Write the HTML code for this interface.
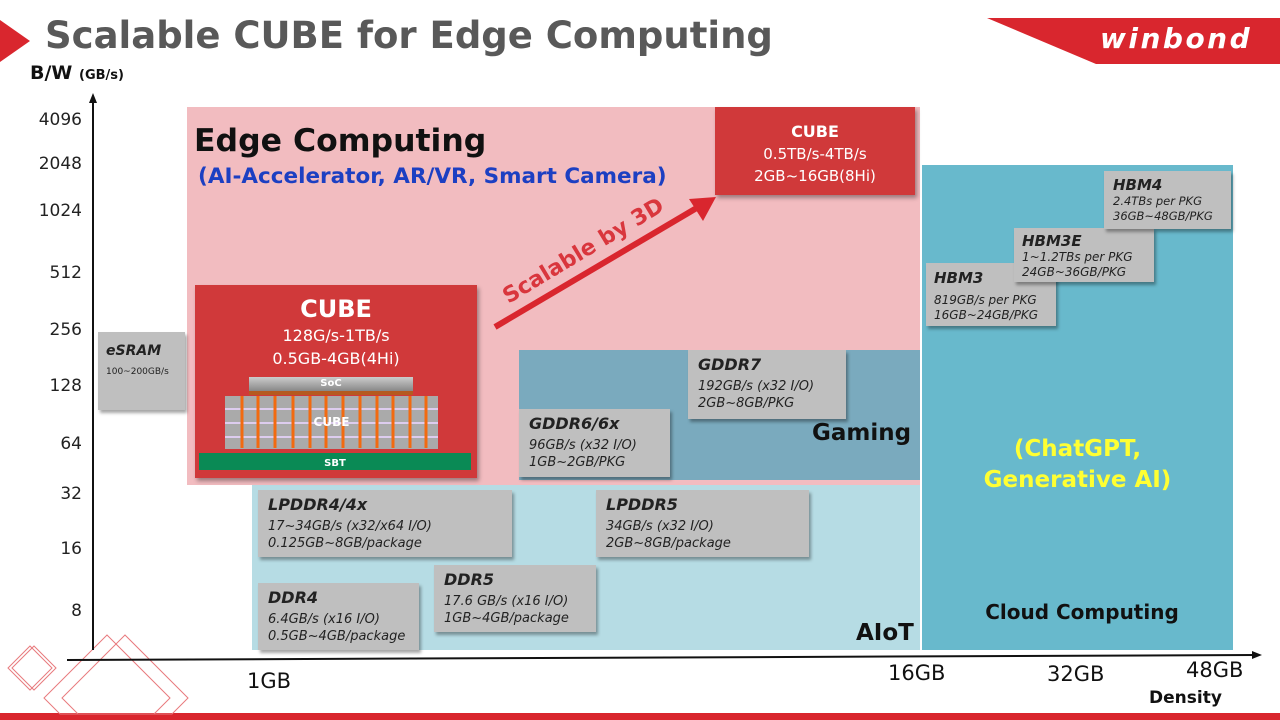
<!DOCTYPE html>
<html><head><meta charset="utf-8"><style>
*{margin:0;padding:0;box-sizing:border-box}
body{width:1280px;height:720px;position:relative;overflow:hidden;background:#fff;font-family:"DejaVu Sans","Liberation Sans",sans-serif}
.a{position:absolute}
.g{position:absolute;background:#bfbfbf;box-shadow:2px 3px 3px rgba(0,0,0,.35);color:#222;font-style:italic;padding:6px 10px;font-size:13px;line-height:17px;white-space:nowrap}
.g b{font-size:16px;display:block;margin-bottom:4px;line-height:18px}
.yl{position:absolute;width:60px;left:22px;text-align:right;font-size:17px;color:#222}
.xl{position:absolute;font-size:21px;color:#111}
</style></head><body>
<svg class="a" style="left:0;top:0" width="1280" height="720">
<polygon points="0,20 30,41 0,62" fill="#d9262e"/>
<polygon points="987,18 1280,18 1280,64 1096,64" fill="#d9262e"/>
<rect x="0" y="713" width="1280" height="7" fill="#d9262e"/>
<g fill="none" stroke="#e8797d" stroke-width="1">
<polygon points="30,646 52,668 30,690 8,668"/><polygon points="34,646 56,668 34,690 12,668"/>
<polygon points="107,635 170,698 154,714 60,714 44,698"/><polygon points="125,635 188,698 172,714 78,714 62,698"/>
</g>
</svg>
<div class="a" style="left:45px;top:14px;font-size:37px;font-weight:bold;color:#595959">Scalable CUBE for Edge Computing</div>
<div class="a" style="left:1100px;top:22px;font-size:28px;font-weight:bold;font-style:italic;color:#fff;letter-spacing:2.5px">winbond</div>
<div class="a" style="left:30px;top:62px;font-size:19px;font-weight:bold;color:#111">B/W <span style="font-size:13px">(GB/s)</span></div>

<div class="a" style="left:187px;top:107px;width:733px;height:378px;background:#f2bcc0"></div>
<div class="a" style="left:519px;top:350px;width:401px;height:130px;background:#7aaabe"></div>
<div class="a" style="left:252px;top:485px;width:668px;height:165px;background:#b6dce4"></div>
<div class="a" style="left:922px;top:165px;width:311px;height:485px;background:#68b9cc"></div>

<div class="a" style="left:194px;top:123px;font-size:31.5px;font-weight:bold;color:#111">Edge Computing</div>
<div class="a" style="left:198px;top:164px;font-size:21.5px;font-weight:bold;color:#1c3fc2">(AI-Accelerator, AR/VR, Smart Camera)</div>
<div class="a" style="left:812px;top:420px;font-size:23px;font-weight:bold;color:#111">Gaming</div>
<div class="a" style="left:856px;top:620px;font-size:23px;font-weight:bold;color:#111">AIoT</div>
<div class="a" style="left:922px;top:434px;width:311px;text-align:center;font-size:23px;font-weight:bold;color:#ffff33;line-height:31px">(ChatGPT,<br>Generative AI)</div>
<div class="a" style="left:922px;top:600px;width:320px;text-align:center;font-size:20px;font-weight:bold;color:#111">Cloud Computing</div>

<div class="a" style="left:715px;top:107px;width:200px;height:88px;background:#d0393a;box-shadow:2px 3px 4px rgba(0,0,0,.35);color:#fff;text-align:center;font-size:15px;line-height:22px;padding-top:14px"><b style="font-size:16px">CUBE</b><br>0.5TB/s-4TB/s<br>2GB~16GB(8Hi)</div>

<div class="a" style="left:195px;top:285px;width:282px;height:193px;background:#d0393a;box-shadow:2px 3px 4px rgba(0,0,0,.35);color:#fff;text-align:center">
<div style="font-size:24px;font-weight:bold;margin-top:10px">CUBE</div>
<div style="font-size:16px;line-height:23px;margin-top:1px">128G/s-1TB/s<br>0.5GB-4GB(4Hi)</div>
<div class="a" style="left:54px;top:92px;width:164px;height:14px;background:linear-gradient(#ccc,#888);font-size:10px;font-weight:bold;line-height:14px">SoC</div>
<div class="a" style="left:54px;top:106px;width:164px;height:4px;background:#b55a20"></div>
<div class="a" style="left:30px;top:111px;width:213px;height:53px;background:repeating-linear-gradient(#aaa 0 12px,#dce 12px 14px)"></div>
<svg class="a" style="left:30px;top:111px" width="213" height="56"><g stroke="#f26a10" stroke-width="3">
<line x1="17" y1="0" x2="17" y2="52"/><line x1="33" y1="0" x2="33" y2="52"/><line x1="50" y1="0" x2="50" y2="52"/><line x1="68" y1="0" x2="68" y2="52"/><line x1="85" y1="0" x2="85" y2="52"/><line x1="101" y1="0" x2="101" y2="52"/><line x1="118" y1="0" x2="118" y2="52"/><line x1="135" y1="0" x2="135" y2="52"/><line x1="152" y1="0" x2="152" y2="52"/><line x1="168" y1="0" x2="168" y2="52"/><line x1="185" y1="0" x2="185" y2="52"/><line x1="201" y1="0" x2="201" y2="52"/></g></svg>
<div class="a" style="left:30px;top:111px;width:213px;font-size:12px;font-weight:bold;line-height:53px">CUBE</div>
<div class="a" style="left:4px;top:168px;width:272px;height:17px;background:#0a8a55;font-size:10px;font-weight:bold;line-height:22px">SBT</div>
</div>

<svg class="a" style="left:0;top:0" width="1280" height="720">
<line x1="495" y1="327" x2="700" y2="206" stroke="#d9262e" stroke-width="6"/>
<polygon points="716,197 689,199 703,221" fill="#d9262e"/>
<line x1="93" y1="650" x2="93" y2="100" stroke="#111" stroke-width="2"/>
<polygon points="93,93 89,103 97,103" fill="#111"/>
<line x1="67" y1="660" x2="1255" y2="655" stroke="#111" stroke-width="2"/>
<polygon points="1262,655 1252,651 1252,659" fill="#111"/>
</svg>
<div class="a" style="left:512px;top:310px;font-size:22px;font-weight:bold;color:#d9363d;transform:rotate(-31deg);transform-origin:0 100%;white-space:nowrap;line-height:26px;margin-top:-26px">Scalable by 3D</div>

<div class="g" style="left:98px;top:332px;width:87px;height:78px;padding:10px 8px"><b style="font-size:14px;margin-bottom:2px">eSRAM</b><span style="font-size:9px;font-style:normal">100~200GB/s</span></div>
<div class="g" style="left:519px;top:409px;width:151px;height:68px"><b>GDDR6/6x</b>96GB/s (x32 I/O)<br>1GB~2GB/PKG</div>
<div class="g" style="left:688px;top:350px;width:158px;height:69px"><b>GDDR7</b>192GB/s (x32 I/O)<br>2GB~8GB/PKG</div>
<div class="g" style="left:258px;top:490px;width:254px;height:67px"><b>LPDDR4/4x</b>17~34GB/s (x32/x64 I/O)<br>0.125GB~8GB/package</div>
<div class="g" style="left:596px;top:490px;width:213px;height:67px"><b>LPDDR5</b>34GB/s (x32 I/O)<br>2GB~8GB/package</div>
<div class="g" style="left:258px;top:583px;width:161px;height:67px"><b>DDR4</b>6.4GB/s (x16 I/O)<br>0.5GB~4GB/package</div>
<div class="g" style="left:434px;top:565px;width:162px;height:67px"><b>DDR5</b>17.6 GB/s (x16 I/O)<br>1GB~4GB/package</div>
<div class="g" style="left:926px;top:263px;width:130px;height:63px;font-size:12px;line-height:15px;padding:6px 8px"><b style="font-size:15px;margin-bottom:6px">HBM3</b>819GB/s per PKG<br>16GB~24GB/PKG</div>
<div class="g" style="left:1014px;top:228px;width:140px;height:54px;font-size:12px;line-height:15px;padding:4px 8px"><b style="font-size:15px;margin-bottom:0">HBM3E</b>1~1.2TBs per PKG<br>24GB~36GB/PKG</div>
<div class="g" style="left:1104px;top:171px;width:127px;height:58px;font-size:11.5px;line-height:15px;padding:5px 9px"><b style="font-size:15px;margin-bottom:0">HBM4</b>2.4TBs per PKG<br>36GB~48GB/PKG</div>

<div class="yl" style="top:110px">4096</div>
<div class="yl" style="top:154px">2048</div>
<div class="yl" style="top:201px">1024</div>
<div class="yl" style="top:263px">512</div>
<div class="yl" style="top:320px">256</div>
<div class="yl" style="top:376px">128</div>
<div class="yl" style="top:434px">64</div>
<div class="yl" style="top:484px">32</div>
<div class="yl" style="top:539px">16</div>
<div class="yl" style="top:601px">8</div>
<div class="xl" style="left:247px;top:669px">1GB</div>
<div class="xl" style="left:888px;top:661px">16GB</div>
<div class="xl" style="left:1047px;top:662px">32GB</div>
<div class="xl" style="left:1186px;top:658px">48GB</div>
<div class="a" style="left:1149px;top:688px;font-size:17px;font-weight:bold;color:#111">Density</div>
</body></html>
